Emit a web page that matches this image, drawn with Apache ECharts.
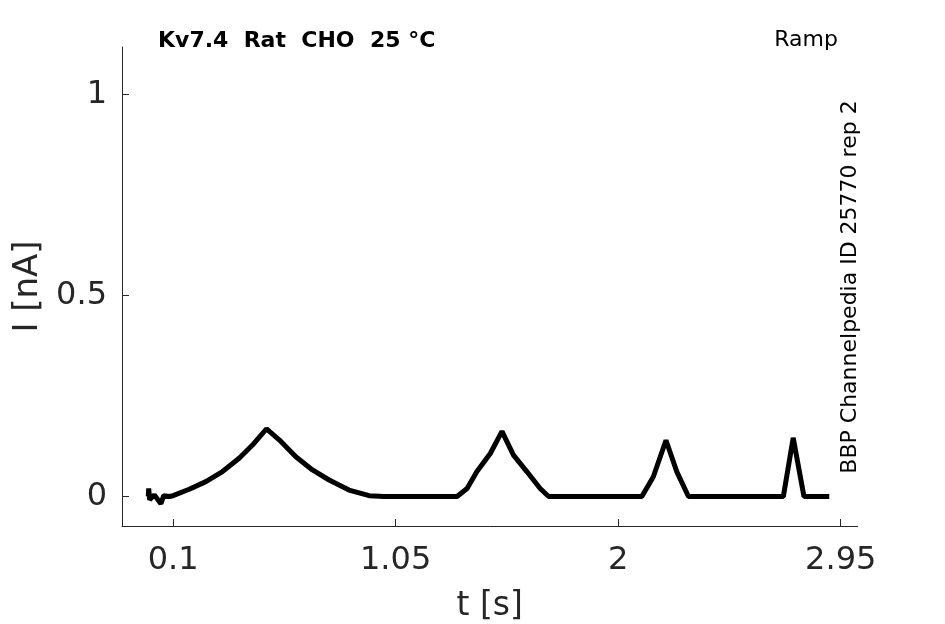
<!DOCTYPE html>
<html>
<head>
<meta charset="utf-8">
<script src="https://cdn.jsdelivr.net/npm/echarts@6/dist/echarts.min.js"></script>
<style>
html,body{margin:0;padding:0;background:#fff;}
#c{width:945px;height:624px;}
</style>
</head>
<body>
<div id="c"></div>
<script>
// Time points [s]
const timeS = [
  -0.006, -0.004, 0.000, 0.020, 0.048, 0.060, 0.084, 0.100,
  0.169, 0.240, 0.311, 0.382, 0.439, 0.482, 0.499,
  0.553, 0.624, 0.695, 0.766, 0.851, 0.937,
  1.000, 1.100, 1.200, 1.312,
  1.355, 1.397, 1.454, 1.504,
  1.553, 1.610, 1.667, 1.703,
  1.800, 1.900, 2.000, 2.101,
  2.150, 2.204, 2.250, 2.300,
  2.400, 2.500, 2.600, 2.705,
  2.747, 2.793, 2.850, 2.901
];
// Current [nA]
const currentNA = [
  0.000, 0.020, -0.008, 0.004, -0.018, 0.002, 0.000, 0.002,
  0.018, 0.037, 0.062, 0.095, 0.128, 0.157, 0.168,
  0.141, 0.099, 0.066, 0.041, 0.016, 0.002,
  0.000, 0.000, 0.000, 0.000,
  0.020, 0.062, 0.107, 0.162,
  0.103, 0.062, 0.020, 0.000,
  0.000, 0.000, 0.000, 0.000,
  0.049, 0.140, 0.062, 0.000,
  0.000, 0.000, 0.000, 0.000,
  0.146, 0.000, 0.000, 0.000
];
const xTicks = [0.1, 1.05, 2, 2.95];
const yTicks = [0, 0.5, 1];
const titleText = 'Kv7.4  Rat  CHO  25 °C';
const protocolText = 'Ramp';
const sideText = 'BBP Channelpedia ID 25770 rep 2';

const data = timeS.map((t, i) => [t, currentNA[i]]);
const axisCol = '#262626';
const chart = echarts.init(document.getElementById('c'));
chart.setOption({
  animation: false,
  backgroundColor: '#fff',
  grid: {left: 122, right: 87.5, top: 47, bottom: 98, containLabel: false, outerBoundsMode: 'none'},
  xAxis: {
    type: 'value', min: -0.118, max: 3.0215,
    name: 't [s]', nameLocation: 'middle', nameGap: 64,
    nameTextStyle: {fontFamily: 'DejaVu Sans', fontSize: 33, color: axisCol},
    axisLine: {show: true, onZero: false, lineStyle: {color: axisCol, width: 1}},
    axisTick: {show: true, inside: true, length: 7, customValues: xTicks, lineStyle: {color: axisCol}},
    axisLabel: {customValues: xTicks, fontFamily: 'DejaVu Sans', fontSize: 32, color: axisCol, margin: 19,
      formatter: v => String(v)},
    splitLine: {show: false}
  },
  yAxis: {
    type: 'value', min: -0.0734, max: 1.118,
    name: 'I [nA]', nameLocation: 'middle', nameGap: 76, nameRotate: 90,
    nameTextStyle: {fontFamily: 'DejaVu Sans', fontSize: 34, color: axisCol},
    axisLine: {show: true, onZero: false, lineStyle: {color: axisCol, width: 1}},
    axisTick: {show: true, inside: true, length: 7, customValues: yTicks, lineStyle: {color: axisCol}},
    axisLabel: {customValues: yTicks, fontFamily: 'DejaVu Sans', fontSize: 32, color: axisCol, margin: 15,
      formatter: v => String(v)},
    splitLine: {show: false}
  },
  graphic: [
    {type: 'text', left: 158, top: 30, style: {text: titleText, font: 'bold 22px "DejaVu Sans"', fill: '#000'}},
    {type: 'text', right: 107, top: 29, style: {text: protocolText, font: '22px "DejaVu Sans"', fill: '#000'}},
    {type: 'text', x: 850, y: 287, rotation: Math.PI / 2,
      style: {text: sideText, font: '22px "DejaVu Sans"', fill: '#000', align: 'center', verticalAlign: 'middle'}}
  ],
  series: [{
    type: 'line', data: data, showSymbol: false, symbol: 'none',
    lineStyle: {color: '#000', width: 5}, clip: true
  }]
});
</script>
</body>
</html>
